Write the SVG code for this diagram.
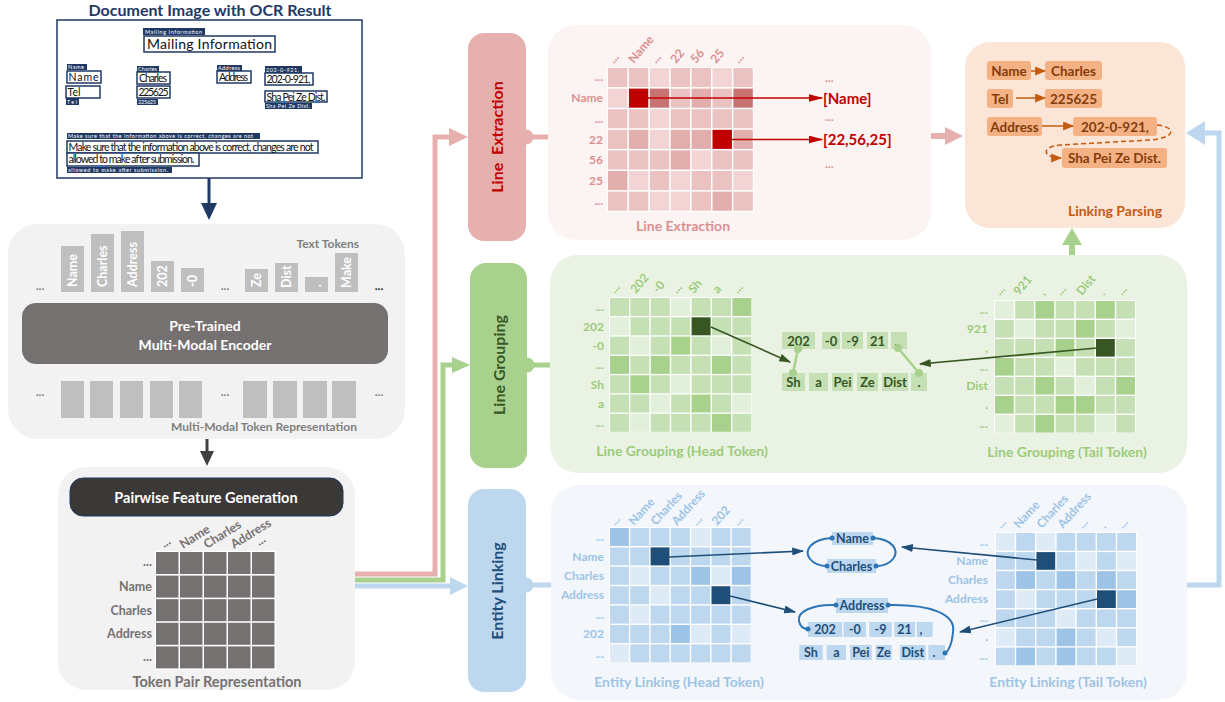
<svg xmlns="http://www.w3.org/2000/svg" xmlns:xlink="http://www.w3.org/1999/xlink" width="1225" height="702" viewBox="0 0 1225 702">
<style>
text{font-family:Lato,"Liberation Sans",sans-serif}
.b{font-weight:bold}
.doc{font-size:10.5px;fill:#111}
.sm{font-size:5.5px;fill:#fff}
.nv{fill:#203864}
.bx{fill:#fff;stroke:#203864;stroke-width:1.5}
.tok{fill:#BFBFBF}
.tt{font-size:12.5px;font-weight:bold;fill:#fff}
.gr{fill:#7F7F7F;font-weight:bold;font-size:12px}
.lr{fill:#DB9090;font-weight:bold;font-size:12px}
.lg{fill:#9CCB7C;font-weight:bold;font-size:12px}
.lb{fill:#9DC3E6;font-weight:bold;font-size:12px}
.lp{fill:#767171;font-weight:bold;font-size:12.5px}
.ra{fill:#F2D4D4}.rb{fill:#EAC2C2}.rc{fill:#E2ADAD}.rd{fill:#C97272}.rx{fill:#C00000}
.ga{fill:#E2EFDA}.gb{fill:#C5E0B4}.gc{fill:#A9D18E}.gx{fill:#375623}
.ba{fill:#DEEBF7}.bbb{fill:#BDD7EE}.bc{fill:#9DC3E6}.bx2{fill:#1F4E79}
.ot{fill:#F4B183}
.otx{fill:#843C0C;font-weight:bold;font-size:13.5px}
.gtk{fill:#C5E0B4}
.gtx{fill:#385723;font-weight:bold;font-size:13px}
.btk{fill:#BDD7EE}
.btx{fill:#1F4E79;font-weight:bold;font-size:12.5px}
.cap{font-weight:bold;font-size:14px;text-anchor:middle}
</style>
<defs>
<rect id="cr" width="19.4" height="19.1"/>
<rect id="cg1" width="19" height="18"/>
<rect id="cg2" width="18.8" height="17.6"/>
<rect id="cb1" width="18.9" height="18"/>
<rect id="cb2" width="18.8" height="17.7"/>
<rect id="cp" width="22.5" height="22"/>
<marker id="aR" viewBox="0 0 10 10" refX="9" refY="5" markerWidth="15" markerHeight="8" markerUnits="userSpaceOnUse" preserveAspectRatio="none" orient="auto"><path d="M0,0L10,5L0,10z" fill="#C00000"/></marker>
<marker id="aG" viewBox="0 0 10 10" refX="9" refY="5" markerWidth="12" markerHeight="8" markerUnits="userSpaceOnUse" preserveAspectRatio="none" orient="auto"><path d="M0,0L10,5L0,10z" fill="#385723"/></marker>
<marker id="aB" viewBox="0 0 10 10" refX="9" refY="5" markerWidth="12" markerHeight="8" markerUnits="userSpaceOnUse" preserveAspectRatio="none" orient="auto"><path d="M0,0L10,5L0,10z" fill="#1F4E79"/></marker>
<marker id="aO" viewBox="0 0 10 10" refX="9" refY="5" markerWidth="11" markerHeight="9" markerUnits="userSpaceOnUse" preserveAspectRatio="none" orient="auto"><path d="M0,0L10,5L0,10z" fill="#C55A11"/></marker>
</defs>
<rect width="1225" height="702" fill="#fff"/>

<!-- Document -->
<g id="document">
<text x="210" y="16" text-anchor="middle" class="b" font-size="16" fill="#1F3864">Document Image with OCR Result</text>
<rect x="57" y="20" width="305" height="158" fill="#fff" stroke="#1F3864" stroke-width="1.5"/>
<rect class="nv" x="143" y="28" width="62" height="7"/><text class="sm" x="145" y="33.5" textLength="57">Mailing Information</text>
<rect class="bx" x="144" y="36" width="131" height="16"/><text x="147" y="48.5" font-size="14" fill="#111" textLength="125">Mailing Information</text>
<rect class="nv" x="67" y="64" width="20" height="6"/><text class="sm" x="68" y="69" textLength="16">Name</text>
<rect class="bx" x="67" y="71" width="34" height="12"/><text class="doc" x="68.5" y="81" textLength="30">Name</text>
<rect class="bx" x="66" y="86" width="34" height="12"/><text class="doc" x="67.5" y="96">Tel</text>
<rect class="nv" x="66" y="98" width="13" height="7"/><text class="sm" x="67" y="103.5" textLength="10">Tel</text>
<rect class="nv" x="137" y="66" width="22" height="6"/><text class="sm" x="138" y="71" textLength="19">Charles</text>
<rect class="bx" x="137" y="72" width="33" height="12"/><text class="doc" x="139" y="82" textLength="28">Charles</text>
<rect class="bx" x="137" y="86" width="33" height="12"/><text class="doc" x="138.5" y="96" textLength="30">225625</text>
<rect class="nv" x="137" y="99" width="21" height="6"/><text class="sm" x="138" y="104" textLength="18">225625</text>
<rect class="nv" x="217" y="65" width="25" height="6"/><text class="sm" x="218" y="70" textLength="22">Address</text>
<rect class="bx" x="217" y="71" width="34" height="12"/><text class="doc" x="219" y="80.5" textLength="29">Address</text>
<rect class="nv" x="265" y="66" width="37" height="7"/><text class="sm" x="266" y="71.5" textLength="33">202-0-921,</text>
<rect class="bx" x="265" y="73" width="48" height="12"/><text class="doc" x="266.5" y="83" textLength="44">202-0-921,</text>
<rect class="bx" x="265" y="91" width="62" height="11"/><text class="doc" x="266.5" y="100.5" textLength="59">Sha Pei Ze Dist.</text>
<rect class="nv" x="265" y="103" width="47" height="6"/><text class="sm" x="266" y="108" textLength="44">Sha Pei Ze Dist.</text>
<rect class="nv" x="67" y="133" width="193" height="6"/><text class="sm" x="68" y="138" textLength="185">Make sure that the information above is correct, changes are not</text>
<rect class="bx" x="67" y="141" width="251" height="12"/><text class="doc" x="68.5" y="150.5" textLength="245">Make sure that the information above is correct, changes are not</text>
<rect class="bx" x="67" y="153" width="132" height="13"/><text class="doc" x="68.5" y="163" textLength="126">allowed to make after submission.</text>
<rect class="nv" x="67" y="167" width="105" height="6"/><text class="sm" x="68" y="172" textLength="100">allowed to make after submission.</text>
</g>

<!-- Encoder -->
<g id="encoder">
<rect x="8" y="224" width="397" height="215" rx="30" fill="#F2F2F2"/>
<text class="gr" x="359" y="248" text-anchor="end">Text Tokens</text>
<rect class="tok" x="61" y="246" width="23" height="46"/><text class="tt" transform="translate(77,287) rotate(-90)">Name</text>
<rect class="tok" x="91" y="234" width="23" height="58"/><text class="tt" transform="translate(107,287) rotate(-90)">Charles</text>
<rect class="tok" x="121" y="231" width="23" height="61"/><text class="tt" transform="translate(137,287) rotate(-90)">Address</text>
<rect class="tok" x="151" y="261" width="23" height="31"/><text class="tt" transform="translate(167,287) rotate(-90)">202</text>
<rect class="tok" x="181" y="268" width="23" height="24"/><text class="tt" transform="translate(197,287) rotate(-90)">-0</text>
<rect class="tok" x="245" y="269" width="23" height="23"/><text class="tt" transform="translate(261,287) rotate(-90)">Ze</text>
<rect class="tok" x="275" y="263" width="23" height="29"/><text class="tt" transform="translate(291,288) rotate(-90)">Dist</text>
<rect class="tok" x="305" y="277" width="23" height="15"/><text class="tt" transform="translate(321,287) rotate(-90)">.</text>
<rect class="tok" x="335" y="253" width="23" height="39"/><text class="tt" transform="translate(351,288) rotate(-90)">Make</text>
<text class="gr" x="40" y="290" text-anchor="middle">...</text>
<text class="gr" x="225" y="290" text-anchor="middle">...</text>
<text class="b" x="379" y="290" text-anchor="middle" font-size="12" fill="#222">...</text>
<rect x="22" y="303" width="366" height="61" rx="14" fill="#767171"/>
<text class="b" x="205" y="331" text-anchor="middle" font-size="14" fill="#fff">Pre-Trained</text>
<text class="b" x="205" y="350" text-anchor="middle" font-size="14" fill="#fff">Multi-Modal Encoder</text>
<rect class="tok" x="61" y="381" width="23" height="37"/>
<rect class="tok" x="90" y="381" width="23" height="37"/>
<rect class="tok" x="120" y="381" width="23" height="37"/>
<rect class="tok" x="150" y="381" width="23" height="37"/>
<rect class="tok" x="179" y="381" width="23" height="37"/>
<rect class="tok" x="243" y="381" width="24" height="37"/>
<rect class="tok" x="273" y="381" width="24" height="37"/>
<rect class="tok" x="303" y="381" width="24" height="37"/>
<rect class="tok" x="332" y="381" width="24" height="37"/>
<text class="gr" x="40" y="396" text-anchor="middle">...</text>
<text class="gr" x="225" y="396" text-anchor="middle">...</text>
<text class="gr" x="379" y="396" text-anchor="middle">...</text>
<text class="gr" x="357" y="431" text-anchor="end">Multi-Modal Token Representation</text>
</g>

<!-- Pairwise -->
<g id="pairwise">
<rect x="58" y="467" width="297" height="223" rx="28" fill="#F2F2F2"/>
<rect x="70" y="478" width="273" height="38" rx="13" fill="#3B3838" stroke="#203864" stroke-width="1"/>
<text class="b" x="206" y="502.5" text-anchor="middle" font-size="14.5" fill="#fff">Pairwise Feature Generation</text>
<rect x="155" y="551" width="121" height="119" fill="#fff"/>
<g fill="#767171">
<use href="#cp" x="156" y="552"/><use href="#cp" x="180" y="552"/><use href="#cp" x="204" y="552"/><use href="#cp" x="228" y="552"/><use href="#cp" x="252" y="552"/>
<use href="#cp" x="156" y="575.6"/><use href="#cp" x="180" y="575.6"/><use href="#cp" x="204" y="575.6"/><use href="#cp" x="228" y="575.6"/><use href="#cp" x="252" y="575.6"/>
<use href="#cp" x="156" y="599.2"/><use href="#cp" x="180" y="599.2"/><use href="#cp" x="204" y="599.2"/><use href="#cp" x="228" y="599.2"/><use href="#cp" x="252" y="599.2"/>
<use href="#cp" x="156" y="622.8"/><use href="#cp" x="180" y="622.8"/><use href="#cp" x="204" y="622.8"/><use href="#cp" x="228" y="622.8"/><use href="#cp" x="252" y="622.8"/>
<use href="#cp" x="156" y="646.4"/><use href="#cp" x="180" y="646.4"/><use href="#cp" x="204" y="646.4"/><use href="#cp" x="228" y="646.4"/><use href="#cp" x="252" y="646.4"/>
</g>
<g class="lp" text-anchor="end">
<text x="152" y="566">...</text><text x="152" y="591">Name</text><text x="152" y="614.5">Charles</text><text x="152" y="638">Address</text><text x="152" y="661">...</text>
</g>
<g class="lp">
<text transform="translate(164,548) rotate(-32)">...</text>
<text transform="translate(183,549) rotate(-32)">Name</text>
<text transform="translate(207,549) rotate(-32)">Charles</text>
<text transform="translate(234,549) rotate(-32)">Address</text>
<text transform="translate(259,546) rotate(-32)">...</text>
</g>
<text class="b" x="217" y="687" text-anchor="middle" font-size="14.5" fill="#767171">Token Pair Representation</text>
</g>

<!-- Connectors -->
<g id="connectors">
<path d="M355,574H435V137H451" fill="none" stroke="#E6B0AE" stroke-width="5"/>
<polygon points="449,128 468,137 449,146" fill="#E6B0AE"/>
<path d="M355,580H443V365H453" fill="none" stroke="#A9D18E" stroke-width="5"/>
<polygon points="452,357 470,365 452,373" fill="#A9D18E"/>
<path d="M355,586H451" fill="none" stroke="#BDD7EE" stroke-width="5"/>
<polygon points="450,577 468,586 450,595" fill="#BDD7EE"/>
<line x1="209" y1="178" x2="209" y2="205" stroke="#1F3864" stroke-width="3"/>
<polygon points="201,203 217,203 209,220" fill="#1F3864"/>
<line x1="207" y1="439" x2="207" y2="452" stroke="#404040" stroke-width="3"/>
<polygon points="200,451 214,451 207,466" fill="#404040"/>
<circle cx="526" cy="137" r="7.5" fill="#E6B0AE"/><line x1="526" y1="137" x2="550" y2="137" stroke="#E6B0AE" stroke-width="5"/>
<circle cx="527" cy="365" r="7.5" fill="#A9D18E"/><line x1="527" y1="365" x2="552" y2="365" stroke="#A9D18E" stroke-width="5"/>
<circle cx="526" cy="585" r="7.5" fill="#BDD7EE"/><line x1="526" y1="585" x2="553" y2="585" stroke="#BDD7EE" stroke-width="5"/>
<line x1="930" y1="136" x2="946" y2="136" stroke="#E6B0AE" stroke-width="6"/>
<polygon points="945,127 963,136 945,145" fill="#E6B0AE"/>
<line x1="1072" y1="256" x2="1072" y2="244" stroke="#A9D18E" stroke-width="6"/>
<polygon points="1062,245 1082,245 1072,228" fill="#A9D18E"/>
<path d="M1186,585H1219V133H1204" fill="none" stroke="#BDD7EE" stroke-width="5"/>
<polygon points="1205,121 1186,133 1205,145" fill="#BDD7EE"/>
</g>

<!-- Task labels -->
<g id="label-le">
<rect x="468" y="33" width="58" height="208" rx="16" fill="#E6B0AE"/>
<text class="b" transform="translate(503,137) rotate(-90)" text-anchor="middle" font-size="16" fill="#C00000" xml:space="preserve">Line  Extraction</text>
</g>
<g id="label-lg">
<rect x="470" y="263" width="57" height="205" rx="16" fill="#A9D18E"/>
<text class="b" transform="translate(504.5,365) rotate(-90)" text-anchor="middle" font-size="16" fill="#385723">Line Grouping</text>
</g>
<g id="label-el">
<rect x="468" y="489" width="58" height="203" rx="16" fill="#BDD7EE"/>
<text class="b" transform="translate(503,591) rotate(-90)" text-anchor="middle" font-size="16" fill="#1F4E79">Entity Linking</text>
</g>

<!-- Line Extraction panel -->
<g id="panel-le">
<rect x="548" y="25" width="383" height="215" rx="28" fill="#FCF3F3"/>
<rect x="607" y="67" width="147" height="145" fill="#fff"/>
<g class="rb">
<use href="#cr" x="608" y="68"/><use href="#cr" x="628.9" y="68"/><use class="ra" href="#cr" x="649.8" y="68"/><use href="#cr" x="670.7" y="68"/><use href="#cr" x="691.6" y="68"/><use class="ra" href="#cr" x="712.5" y="68"/><use href="#cr" x="733.4" y="68"/>
<use class="ra" href="#cr" x="608" y="88.6"/><use class="rx" href="#cr" x="628.9" y="88.6"/><use class="rd" href="#cr" x="649.8" y="88.6"/><use href="#cr" x="670.7" y="88.6"/><use class="rc" href="#cr" x="691.6" y="88.6"/><use href="#cr" x="712.5" y="88.6"/><use class="rd" href="#cr" x="733.4" y="88.6"/>
<use href="#cr" x="608" y="109.2"/><use href="#cr" x="628.9" y="109.2"/><use class="ra" href="#cr" x="649.8" y="109.2"/><use href="#cr" x="670.7" y="109.2"/><use href="#cr" x="691.6" y="109.2"/><use href="#cr" x="712.5" y="109.2"/><use href="#cr" x="733.4" y="109.2"/>
<use href="#cr" x="608" y="129.8"/><use class="rc" href="#cr" x="628.9" y="129.8"/><use class="ra" href="#cr" x="649.8" y="129.8"/><use class="rc" href="#cr" x="670.7" y="129.8"/><use class="rc" href="#cr" x="691.6" y="129.8"/><use class="rx" href="#cr" x="712.5" y="129.8"/><use class="rc" href="#cr" x="733.4" y="129.8"/>
<use href="#cr" x="608" y="150.4"/><use href="#cr" x="628.9" y="150.4"/><use href="#cr" x="649.8" y="150.4"/><use class="rc" href="#cr" x="670.7" y="150.4"/><use class="ra" href="#cr" x="691.6" y="150.4"/><use href="#cr" x="712.5" y="150.4"/><use href="#cr" x="733.4" y="150.4"/>
<use class="rc" href="#cr" x="608" y="171"/><use class="ra" href="#cr" x="628.9" y="171"/><use href="#cr" x="649.8" y="171"/><use class="ra" href="#cr" x="670.7" y="171"/><use href="#cr" x="691.6" y="171"/><use href="#cr" x="712.5" y="171"/><use class="ra" href="#cr" x="733.4" y="171"/>
<use href="#cr" x="608" y="191.6"/><use href="#cr" x="628.9" y="191.6"/><use class="ra" href="#cr" x="649.8" y="191.6"/><use class="ra" href="#cr" x="670.7" y="191.6"/><use href="#cr" x="691.6" y="191.6"/><use class="rc" href="#cr" x="712.5" y="191.6"/><use href="#cr" x="733.4" y="191.6"/>
</g>
<g class="lr" text-anchor="end">
<text x="603" y="81">...</text><text x="603" y="102">Name</text><text x="603" y="122.5">...</text><text x="603" y="143.5">22</text><text x="603" y="164">56</text><text x="603" y="184.5">25</text><text x="603" y="205">...</text>
</g>
<g class="lr">
<text transform="translate(614,64) rotate(-50)">...</text>
<text transform="translate(634,64) rotate(-50)">Name</text>
<text transform="translate(656,64) rotate(-50)">...</text>
<text transform="translate(676,64) rotate(-50)">22</text>
<text transform="translate(696,64) rotate(-50)">56</text>
<text transform="translate(716,64) rotate(-50)">25</text>
<text transform="translate(739,64) rotate(-50)">...</text>
</g>
<line x1="640" y1="98" x2="822" y2="98" stroke="#C00000" stroke-width="1.6" marker-end="url(#aR)"/>
<line x1="723" y1="139.5" x2="822" y2="139.5" stroke="#C00000" stroke-width="1.6" marker-end="url(#aR)"/>
<text class="b" x="823" y="104" font-size="15" fill="#C00000">[Name]</text>
<text class="b" x="823" y="145" font-size="15" fill="#C00000">[22,56,25]</text>
<g class="lr" font-size="10"><text x="825" y="82">...</text><text x="825" y="121">...</text><text x="825" y="168">...</text></g>
<text class="cap" x="683" y="231" fill="#DB9090">Line Extraction</text>
</g>

<!-- Linking Parsing panel -->
<g id="panel-lp">
<rect x="965" y="42" width="220" height="186" rx="25" fill="#FBE5D6"/>
<rect class="ot" x="987" y="61" width="44" height="19" rx="3"/><text class="otx" x="1009" y="75.5" text-anchor="middle">Name</text>
<rect class="ot" x="1045" y="61" width="57" height="19" rx="3"/><text class="otx" x="1073.5" y="75.5" text-anchor="middle">Charles</text>
<rect class="ot" x="987" y="89" width="26" height="19" rx="3"/><text class="otx" x="1000" y="103.5" text-anchor="middle">Tel</text>
<rect class="ot" x="1045" y="89" width="57" height="19" rx="3"/><text class="otx" x="1073.5" y="103.5" text-anchor="middle">225625</text>
<rect class="ot" x="987" y="117" width="55" height="19" rx="3"/><text class="otx" x="1014.5" y="131.5" text-anchor="middle">Address</text>
<rect class="ot" x="1073" y="117" width="84" height="19" rx="3"/><text class="otx" x="1115" y="131.5" text-anchor="middle">202-0-921,</text>
<rect class="ot" x="1062" y="148" width="105" height="20" rx="3"/><text class="otx" x="1114.5" y="163" text-anchor="middle">Sha Pei Ze Dist.</text>
<line x1="1031" y1="71" x2="1045" y2="71" stroke="#C55A11" stroke-width="1.5" marker-end="url(#aO)"/>
<line x1="1016" y1="98" x2="1045" y2="98" stroke="#C55A11" stroke-width="1.5" marker-end="url(#aO)"/>
<line x1="1042" y1="126" x2="1073" y2="126" stroke="#C55A11" stroke-width="1.5" marker-end="url(#aO)"/>
<path d="M1157,125C1177,127 1176,138 1150,140L1060,145C1040,147 1043,158 1061,158" fill="none" stroke="#C55A11" stroke-width="1.5" stroke-dasharray="5,3" marker-end="url(#aO)"/>
<text class="cap" x="1115" y="216" fill="#C55A11">Linking Parsing</text>
</g>

<!-- Line Grouping panel -->
<g id="panel-lg">
<rect x="550" y="255" width="637" height="218" rx="28" fill="#EAF3E3"/>
<rect x="609" y="297" width="143" height="135" fill="#fff"/>
<g class="gb">
<use href="#cg1" x="610" y="298"/><use href="#cg1" x="630.4" y="298"/><use href="#cg1" x="650.8" y="298"/><use class="ga" href="#cg1" x="671.2" y="298"/><use href="#cg1" x="691.6" y="298"/><use href="#cg1" x="712" y="298"/><use class="gc" href="#cg1" x="732.4" y="298"/>
<use class="ga" href="#cg1" x="610" y="317.3"/><use href="#cg1" x="630.4" y="317.3"/><use href="#cg1" x="650.8" y="317.3"/><use href="#cg1" x="671.2" y="317.3"/><use class="gx" href="#cg1" x="691.6" y="317.3"/><use href="#cg1" x="712" y="317.3"/><use href="#cg1" x="732.4" y="317.3"/>
<use href="#cg1" x="610" y="336.6"/><use class="ga" href="#cg1" x="630.4" y="336.6"/><use href="#cg1" x="650.8" y="336.6"/><use class="gc" href="#cg1" x="671.2" y="336.6"/><use href="#cg1" x="691.6" y="336.6"/><use class="ga" href="#cg1" x="712" y="336.6"/><use href="#cg1" x="732.4" y="336.6"/>
<use class="gc" href="#cg1" x="610" y="355.9"/><use href="#cg1" x="630.4" y="355.9"/><use class="gc" href="#cg1" x="650.8" y="355.9"/><use href="#cg1" x="671.2" y="355.9"/><use href="#cg1" x="691.6" y="355.9"/><use class="gc" href="#cg1" x="712" y="355.9"/><use href="#cg1" x="732.4" y="355.9"/>
<use href="#cg1" x="610" y="375.2"/><use class="gc" href="#cg1" x="630.4" y="375.2"/><use href="#cg1" x="650.8" y="375.2"/><use class="ga" href="#cg1" x="671.2" y="375.2"/><use href="#cg1" x="691.6" y="375.2"/><use href="#cg1" x="712" y="375.2"/><use href="#cg1" x="732.4" y="375.2"/>
<use href="#cg1" x="610" y="394.5"/><use href="#cg1" x="630.4" y="394.5"/><use class="ga" href="#cg1" x="650.8" y="394.5"/><use href="#cg1" x="671.2" y="394.5"/><use class="gc" href="#cg1" x="691.6" y="394.5"/><use href="#cg1" x="712" y="394.5"/><use class="ga" href="#cg1" x="732.4" y="394.5"/>
<use href="#cg1" x="610" y="413.8"/><use class="ga" href="#cg1" x="630.4" y="413.8"/><use href="#cg1" x="650.8" y="413.8"/><use href="#cg1" x="671.2" y="413.8"/><use href="#cg1" x="691.6" y="413.8"/><use class="gc" href="#cg1" x="712" y="413.8"/><use href="#cg1" x="732.4" y="413.8"/>
</g>
<g class="lg" text-anchor="end">
<text x="604" y="311">...</text><text x="604" y="330.5">202</text><text x="604" y="350">-0</text><text x="604" y="369">...</text><text x="604" y="388.5">Sh</text><text x="604" y="407.5">a</text><text x="604" y="427">...</text>
</g>
<g class="lg">
<text transform="translate(615,294) rotate(-50)">...</text>
<text transform="translate(636,294) rotate(-50)">202</text>
<text transform="translate(658,294) rotate(-50)">-0</text>
<text transform="translate(677,294) rotate(-50)">...</text>
<text transform="translate(694,294) rotate(-50)">Sh</text>
<text transform="translate(718,294) rotate(-50)">a</text>
<text transform="translate(738,294) rotate(-50)">...</text>
</g>
<text class="cap" x="682" y="456" fill="#9CCB7C">Line Grouping (Head Token)</text>

<rect x="994" y="300" width="142" height="133" fill="#fff"/>
<g class="gb">
<use class="ga" href="#cg2" x="995" y="301"/><use href="#cg2" x="1015.2" y="301"/><use class="gc" href="#cg2" x="1035.4" y="301"/><use href="#cg2" x="1055.6" y="301"/><use href="#cg2" x="1075.8" y="301"/><use class="gc" href="#cg2" x="1096" y="301"/><use href="#cg2" x="1116.2" y="301"/>
<use href="#cg2" x="995" y="320"/><use class="ga" href="#cg2" x="1015.2" y="320"/><use href="#cg2" x="1035.4" y="320"/><use href="#cg2" x="1055.6" y="320"/><use class="gc" href="#cg2" x="1075.8" y="320"/><use href="#cg2" x="1096" y="320"/><use class="ga" href="#cg2" x="1116.2" y="320"/>
<use href="#cg2" x="995" y="339"/><use href="#cg2" x="1015.2" y="339"/><use href="#cg2" x="1035.4" y="339"/><use class="gc" href="#cg2" x="1055.6" y="339"/><use href="#cg2" x="1075.8" y="339"/><use class="gx" href="#cg2" x="1096" y="339"/><use href="#cg2" x="1116.2" y="339"/>
<use class="gc" href="#cg2" x="995" y="358"/><use href="#cg2" x="1015.2" y="358"/><use href="#cg2" x="1035.4" y="358"/><use class="ga" href="#cg2" x="1055.6" y="358"/><use href="#cg2" x="1075.8" y="358"/><use href="#cg2" x="1096" y="358"/><use href="#cg2" x="1116.2" y="358"/>
<use href="#cg2" x="995" y="377"/><use href="#cg2" x="1015.2" y="377"/><use class="gc" href="#cg2" x="1035.4" y="377"/><use href="#cg2" x="1055.6" y="377"/><use class="ga" href="#cg2" x="1075.8" y="377"/><use href="#cg2" x="1096" y="377"/><use class="gc" href="#cg2" x="1116.2" y="377"/>
<use class="gc" href="#cg2" x="995" y="396"/><use href="#cg2" x="1015.2" y="396"/><use href="#cg2" x="1035.4" y="396"/><use class="gc" href="#cg2" x="1055.6" y="396"/><use class="gc" href="#cg2" x="1075.8" y="396"/><use href="#cg2" x="1096" y="396"/><use href="#cg2" x="1116.2" y="396"/>
<use class="ga" href="#cg2" x="995" y="415"/><use href="#cg2" x="1015.2" y="415"/><use class="gc" href="#cg2" x="1035.4" y="415"/><use href="#cg2" x="1055.6" y="415"/><use href="#cg2" x="1075.8" y="415"/><use class="ga" href="#cg2" x="1096" y="415"/><use href="#cg2" x="1116.2" y="415"/>
</g>
<g class="lg" text-anchor="end">
<text x="988" y="313.5">...</text><text x="988" y="332.8">921</text><text x="988" y="351.8">,</text><text x="988" y="370.5">...</text><text x="988" y="389.8">Dist</text><text x="988" y="408.8">.</text><text x="988" y="427.5">...</text>
</g>
<g class="lg">
<text transform="translate(1000,296) rotate(-50)">...</text>
<text transform="translate(1019,296) rotate(-50)">921</text>
<text transform="translate(1044,296) rotate(-50)">,</text>
<text transform="translate(1061,296) rotate(-50)">...</text>
<text transform="translate(1082,296) rotate(-50)">Dist</text>
<text transform="translate(1104,296) rotate(-50)">.</text>
<text transform="translate(1122,296) rotate(-50)">...</text>
</g>
<text class="cap" x="1067" y="457" fill="#9CCB7C">Line Grouping (Tail Token)</text>

<rect class="gtk" x="782" y="332" width="33" height="17"/><text class="gtx" x="798.5" y="345.5" text-anchor="middle">202</text>
<rect class="gtk" x="822" y="332" width="18" height="17"/><text class="gtx" x="831" y="345.5" text-anchor="middle">-0</text>
<rect class="gtk" x="842" y="332" width="21" height="17"/><text class="gtx" x="852.5" y="345.5" text-anchor="middle">-9</text>
<rect class="gtk" x="867" y="332" width="21" height="17"/><text class="gtx" x="877.5" y="345.5" text-anchor="middle">21</text>
<rect class="gtk" x="891" y="332" width="16" height="17"/><text class="gtx" x="896" y="345.5" text-anchor="middle">,</text>
<rect class="gtk" x="782" y="373" width="23" height="18"/><text class="gtx" x="793.5" y="387" text-anchor="middle">Sh</text>
<rect class="gtk" x="809" y="373" width="19" height="18"/><text class="gtx" x="818.5" y="387" text-anchor="middle">a</text>
<rect class="gtk" x="832" y="373" width="21" height="18"/><text class="gtx" x="842.5" y="387" text-anchor="middle">Pei</text>
<rect class="gtk" x="857" y="373" width="21" height="18"/><text class="gtx" x="867.5" y="387" text-anchor="middle">Ze</text>
<rect class="gtk" x="882" y="373" width="26" height="18"/><text class="gtx" x="895" y="387" text-anchor="middle">Dist</text>
<rect class="gtk" x="911" y="373" width="16" height="18"/><text class="gtx" x="919" y="387" text-anchor="middle">.</text>
<g stroke="#A9D18E" stroke-width="2.5" fill="#A9D18E">
<line x1="798" y1="349" x2="793" y2="373"/><circle cx="798" cy="349" r="2.8"/><circle cx="793" cy="373" r="2.8"/>
<line x1="898" y1="348" x2="919" y2="373"/><circle cx="898" cy="348" r="2.8"/><circle cx="919" cy="373" r="2.8"/>
</g>
<line x1="711" y1="327" x2="790" y2="362" stroke="#385723" stroke-width="1.6" marker-end="url(#aG)"/>
<line x1="1097" y1="348" x2="920" y2="364" stroke="#385723" stroke-width="1.6" marker-end="url(#aG)"/>
</g>

<!-- Entity Linking panel -->
<g id="panel-el">
<rect x="551" y="485" width="636" height="215" rx="28" fill="#F3F7FC"/>
<rect x="609" y="527" width="142" height="136" fill="#fff"/>
<g class="bbb">
<use class="bc" href="#cb1" x="610" y="528"/><use href="#cb1" x="630.3" y="528"/><use href="#cb1" x="650.6" y="528"/><use href="#cb1" x="670.9" y="528"/><use class="ba" href="#cb1" x="691.2" y="528"/><use href="#cb1" x="711.5" y="528"/><use href="#cb1" x="731.8" y="528"/>
<use href="#cb1" x="610" y="547.4"/><use href="#cb1" x="630.3" y="547.4"/><use class="bx2" href="#cb1" x="650.6" y="547.4"/><use href="#cb1" x="670.9" y="547.4"/><use href="#cb1" x="691.2" y="547.4"/><use href="#cb1" x="711.5" y="547.4"/><use href="#cb1" x="731.8" y="547.4"/>
<use href="#cb1" x="610" y="566.8"/><use class="ba" href="#cb1" x="630.3" y="566.8"/><use href="#cb1" x="650.6" y="566.8"/><use href="#cb1" x="670.9" y="566.8"/><use class="bc" href="#cb1" x="691.2" y="566.8"/><use class="ba" href="#cb1" x="711.5" y="566.8"/><use class="bc" href="#cb1" x="731.8" y="566.8"/>
<use href="#cb1" x="610" y="586.2"/><use href="#cb1" x="630.3" y="586.2"/><use class="ba" href="#cb1" x="650.6" y="586.2"/><use href="#cb1" x="670.9" y="586.2"/><use href="#cb1" x="691.2" y="586.2"/><use class="bx2" href="#cb1" x="711.5" y="586.2"/><use href="#cb1" x="731.8" y="586.2"/>
<use href="#cb1" x="610" y="605.6"/><use class="ba" href="#cb1" x="630.3" y="605.6"/><use href="#cb1" x="650.6" y="605.6"/><use href="#cb1" x="670.9" y="605.6"/><use href="#cb1" x="691.2" y="605.6"/><use href="#cb1" x="711.5" y="605.6"/><use href="#cb1" x="731.8" y="605.6"/>
<use href="#cb1" x="610" y="625"/><use href="#cb1" x="630.3" y="625"/><use href="#cb1" x="650.6" y="625"/><use class="bc" href="#cb1" x="670.9" y="625"/><use class="ba" href="#cb1" x="691.2" y="625"/><use href="#cb1" x="711.5" y="625"/><use class="ba" href="#cb1" x="731.8" y="625"/>
<use class="ba" href="#cb1" x="610" y="644.4"/><use href="#cb1" x="630.3" y="644.4"/><use href="#cb1" x="650.6" y="644.4"/><use href="#cb1" x="670.9" y="644.4"/><use href="#cb1" x="691.2" y="644.4"/><use href="#cb1" x="711.5" y="644.4"/><use href="#cb1" x="731.8" y="644.4"/>
</g>
<g class="lb" text-anchor="end">
<text x="604" y="541">...</text><text x="604" y="560.5">Name</text><text x="604" y="580">Charles</text><text x="604" y="599">Address</text><text x="604" y="618.5">...</text><text x="604" y="638">202</text><text x="604" y="657.5">...</text>
</g>
<g class="lb">
<text transform="translate(615,526) rotate(-48)">...</text>
<text transform="translate(634,526) rotate(-48)">Name</text>
<text transform="translate(656,526) rotate(-48)">Charles</text>
<text transform="translate(677,526) rotate(-48)">Address</text>
<text transform="translate(697,526) rotate(-48)">...</text>
<text transform="translate(717,526) rotate(-48)">202</text>
<text transform="translate(738,526) rotate(-48)">...</text>
</g>
<text class="cap" x="679" y="687" fill="#9DC3E6">Entity Linking (Head Token)</text>

<rect x="995" y="532" width="142" height="134" fill="#fff"/>
<g class="bbb">
<use class="ba" href="#cb2" x="996" y="533"/><use href="#cb2" x="1016.2" y="533"/><use class="ba" href="#cb2" x="1036.4" y="533"/><use href="#cb2" x="1056.6" y="533"/><use href="#cb2" x="1076.8" y="533"/><use href="#cb2" x="1097" y="533"/><use href="#cb2" x="1117.2" y="533"/>
<use href="#cb2" x="996" y="552.1"/><use href="#cb2" x="1016.2" y="552.1"/><use class="bx2" href="#cb2" x="1036.4" y="552.1"/><use href="#cb2" x="1056.6" y="552.1"/><use class="ba" href="#cb2" x="1076.8" y="552.1"/><use href="#cb2" x="1097" y="552.1"/><use class="ba" href="#cb2" x="1117.2" y="552.1"/>
<use href="#cb2" x="996" y="571.2"/><use class="bc" href="#cb2" x="1016.2" y="571.2"/><use href="#cb2" x="1036.4" y="571.2"/><use class="bc" href="#cb2" x="1056.6" y="571.2"/><use href="#cb2" x="1076.8" y="571.2"/><use class="bc" href="#cb2" x="1097" y="571.2"/><use href="#cb2" x="1117.2" y="571.2"/>
<use href="#cb2" x="996" y="590.3"/><use class="ba" href="#cb2" x="1016.2" y="590.3"/><use href="#cb2" x="1036.4" y="590.3"/><use href="#cb2" x="1056.6" y="590.3"/><use href="#cb2" x="1076.8" y="590.3"/><use class="bx2" href="#cb2" x="1097" y="590.3"/><use class="bc" href="#cb2" x="1117.2" y="590.3"/>
<use href="#cb2" x="996" y="609.4"/><use href="#cb2" x="1016.2" y="609.4"/><use href="#cb2" x="1036.4" y="609.4"/><use class="ba" href="#cb2" x="1056.6" y="609.4"/><use href="#cb2" x="1076.8" y="609.4"/><use href="#cb2" x="1097" y="609.4"/><use href="#cb2" x="1117.2" y="609.4"/>
<use class="ba" href="#cb2" x="996" y="628.5"/><use href="#cb2" x="1016.2" y="628.5"/><use href="#cb2" x="1036.4" y="628.5"/><use class="bc" href="#cb2" x="1056.6" y="628.5"/><use href="#cb2" x="1076.8" y="628.5"/><use class="ba" href="#cb2" x="1097" y="628.5"/><use href="#cb2" x="1117.2" y="628.5"/>
<use href="#cb2" x="996" y="647.6"/><use class="bc" href="#cb2" x="1016.2" y="647.6"/><use href="#cb2" x="1036.4" y="647.6"/><use class="bc" href="#cb2" x="1056.6" y="647.6"/><use href="#cb2" x="1076.8" y="647.6"/><use href="#cb2" x="1097" y="647.6"/><use class="ba" href="#cb2" x="1117.2" y="647.6"/>
</g>
<g class="lb" text-anchor="end">
<text x="988" y="545.5">...</text><text x="988" y="565">Name</text><text x="988" y="584">Charles</text><text x="988" y="603">Address</text><text x="988" y="622">...</text><text x="988" y="641">.</text><text x="988" y="660">...</text>
</g>
<g class="lb">
<text transform="translate(1001,529) rotate(-48)">...</text>
<text transform="translate(1019,529) rotate(-48)">Name</text>
<text transform="translate(1042,529) rotate(-48)">Charles</text>
<text transform="translate(1063,529) rotate(-48)">Address</text>
<text transform="translate(1083,529) rotate(-48)">...</text>
<text transform="translate(1105,529) rotate(-48)">.</text>
<text transform="translate(1123,529) rotate(-48)">...</text>
</g>
<text class="cap" x="1068" y="687" fill="#9DC3E6">Entity Linking (Tail Token)</text>

<rect class="btk" x="832" y="532" width="41" height="13"/><text class="btx" x="852.5" y="543" text-anchor="middle">Name</text>
<rect class="btk" x="827" y="559" width="49" height="14"/><text class="btx" x="851.5" y="570.5" text-anchor="middle">Charles</text>
<rect class="btk" x="836" y="598" width="52" height="15"/><text class="btx" x="862" y="610" text-anchor="middle">Address</text>
<rect class="btk" x="808" y="622" width="34" height="15"/><text class="btx" x="825" y="634" text-anchor="middle">202</text>
<rect class="btk" x="843.5" y="622" width="22.5" height="15"/><text class="btx" x="854.7" y="634" text-anchor="middle">-0</text>
<rect class="btk" x="869.3" y="622" width="22.4" height="15"/><text class="btx" x="880.5" y="634" text-anchor="middle">-9</text>
<rect class="btk" x="894.3" y="622" width="20.7" height="15"/><text class="btx" x="904.6" y="634" text-anchor="middle">21</text>
<rect class="btk" x="916.7" y="622" width="16" height="15"/><text class="btx" x="921" y="634" text-anchor="middle">,</text>
<rect class="btk" x="799.3" y="645" width="23.4" height="15"/><text class="btx" x="811" y="657" text-anchor="middle">Sh</text>
<rect class="btk" x="826.7" y="645" width="19.3" height="15"/><text class="btx" x="836.3" y="657" text-anchor="middle">a</text>
<rect class="btk" x="850" y="645" width="21.7" height="15"/><text class="btx" x="860.8" y="657" text-anchor="middle">Pei</text>
<rect class="btk" x="875.7" y="645" width="16" height="15"/><text class="btx" x="883.7" y="657" text-anchor="middle">Ze</text>
<rect class="btk" x="900" y="645" width="25.7" height="15"/><text class="btx" x="912.8" y="657" text-anchor="middle">Dist</text>
<rect class="btk" x="928.3" y="645" width="16.7" height="15"/><text class="btx" x="934" y="657" text-anchor="middle">.</text>
<g fill="none" stroke="#2E75B6" stroke-width="2">
<path d="M832,538C812,539 803,550 810,559C814,564 820,566 827,566"/>
<path d="M873,538C892,539 900,550 893,559C889,564 883,566 876,566"/>
<path d="M836,605C812,604 797,612 799,621C800,626 803,629 808,629"/>
<path d="M888,605C930,604 956,614 953,632C952,643 950,650 945,653"/>
</g>
<g fill="#2E75B6">
<circle cx="832" cy="538" r="2.5"/><circle cx="873" cy="538" r="2.5"/><circle cx="827" cy="566" r="2.5"/><circle cx="876" cy="566" r="2.5"/>
<circle cx="836" cy="605" r="2.5"/><circle cx="888" cy="605" r="2.5"/><circle cx="808" cy="629" r="2.5"/><circle cx="945" cy="653" r="2.5"/>
</g>
<line x1="669" y1="557" x2="803" y2="551" stroke="#1F4E79" stroke-width="1.6" marker-end="url(#aB)"/>
<line x1="730" y1="596" x2="795" y2="612" stroke="#1F4E79" stroke-width="1.6" marker-end="url(#aB)"/>
<line x1="1037" y1="560" x2="902" y2="547" stroke="#1F4E79" stroke-width="1.6" marker-end="url(#aB)"/>
<line x1="1097" y1="599" x2="960" y2="632" stroke="#1F4E79" stroke-width="1.6" marker-end="url(#aB)"/>
</g>
</svg>
